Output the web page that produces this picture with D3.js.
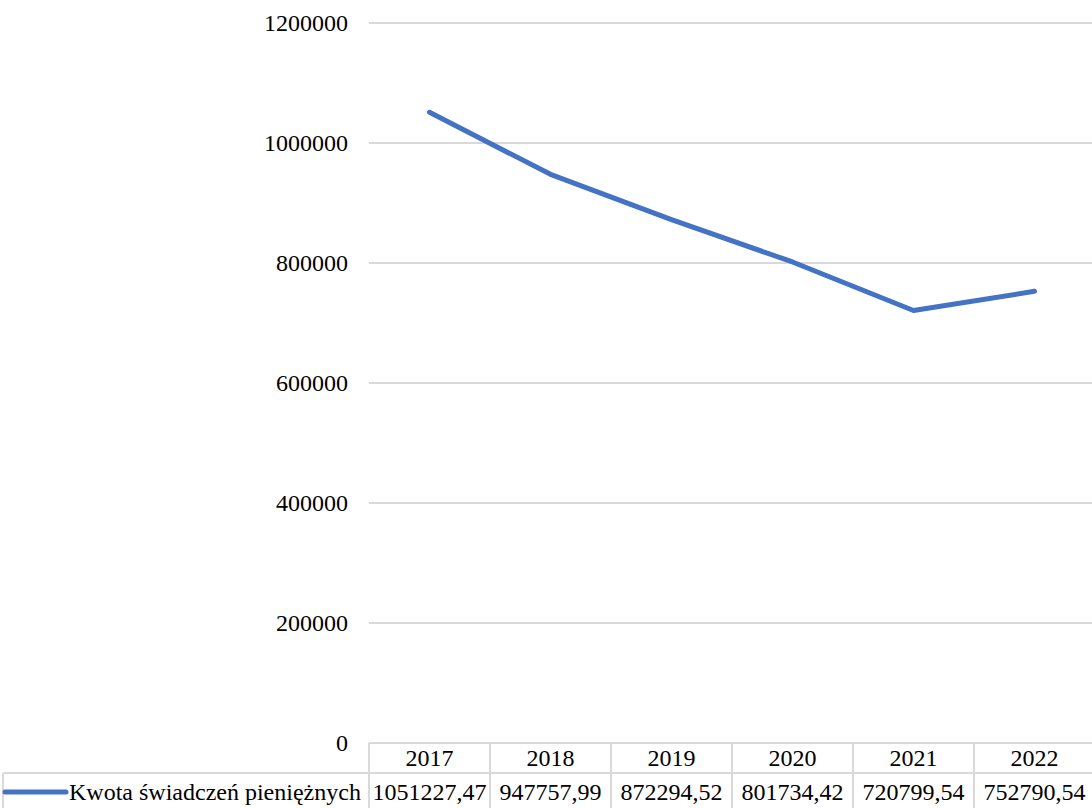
<!DOCTYPE html>
<html><head><meta charset="utf-8">
<script src="https://cdn.jsdelivr.net/npm/d3@7"></script>
<style>body{margin:0;background:#fff}svg{display:block}</style>
</head><body>
<script>
const categories = ["2017","2018","2019","2020","2021","2022"];
const values = [1051227.47, 947757.99, 872294.52, 801734.42, 720799.54, 752790.54];
const valueLabels = ["1051227,47","947757,99","872294,52","801734,42","720799,54","752790,54"];
const seriesName = "Kwota świadczeń pieniężnych";
const yTicks = [0,200000,400000,600000,800000,1000000,1200000];

(function(){
const W=1092,H=808;
const FONT="'Liberation Serif', 'Times New Roman', Times, 'DejaVu Serif', serif";
const svg=d3.select("body").append("svg").attr("width",W).attr("height",H)
  .style("font-family",FONT);
const left=369, colW=121, plotTop=23, plotBottom=743;
const x=d3.scaleBand().domain(categories).range([left,left+colW*categories.length]);
const y=d3.scaleLinear().domain([0,1200000]).range([plotBottom,plotTop]);
const fs=24;

svg.append("g").selectAll("line").data(yTicks.filter(d=>d>0)).join("line")
 .attr("x1",left).attr("x2",W+10).attr("y1",d=>y(d)).attr("y2",d=>y(d))
 .attr("stroke","#d9d9d9").attr("stroke-width",2);
svg.append("g").selectAll("text").data(yTicks).join("text")
 .attr("x",348).attr("y",d=>y(d)).attr("dy","0.33em").attr("text-anchor","end")
 .style("font-family",FONT).style("font-size",fs+"px").text(d=>d);

const rowH=30, t0=plotBottom, t1=plotBottom+rowH, t2=t1+rowH+20;
const g=svg.append("g").attr("stroke","#d9d9d9").attr("stroke-width",2);
g.append("line").attr("x1",left).attr("x2",W+10).attr("y1",t0).attr("y2",t0);
g.append("line").attr("x1",3).attr("x2",W+10).attr("y1",t1).attr("y2",t1);
g.append("line").attr("x1",3).attr("x2",3).attr("y1",t1).attr("y2",t2);
categories.forEach(c=>{
  g.append("line").attr("x1",x(c)).attr("x2",x(c)).attr("y1",t0).attr("y2",t2);
});
g.append("line").attr("x1",x.range()[1]).attr("x2",x.range()[1]).attr("y1",t0).attr("y2",t2);
svg.append("g").selectAll("text").data(categories).join("text")
 .attr("x",d=>x(d)+x.bandwidth()/2).attr("y",(t0+t1)/2).attr("dy","0.35em")
 .attr("text-anchor","middle").style("font-family",FONT).style("font-size",fs+"px").text(d=>d);
svg.append("g").selectAll("text").data(valueLabels).join("text")
 .attr("x",(d,i)=>x(categories[i])+x.bandwidth()/2).attr("y",t1+19).attr("dy","0.35em")
 .attr("text-anchor","middle").style("font-family",FONT).style("font-size",fs+"px").text(d=>d);
svg.append("line").attr("x1",5).attr("x2",66).attr("y1",t1+19).attr("y2",t1+19)
 .attr("stroke","#4472C4").attr("stroke-width",5).attr("stroke-linecap","round");
svg.append("text").attr("x",69).attr("y",t1+19).attr("dy","0.35em")
 .style("font-family",FONT).style("font-size",fs+"px").text(seriesName);

const line=d3.line().x((d,i)=>x(categories[i])+x.bandwidth()/2).y(d=>y(d));
svg.append("path").datum(values).attr("d",line).attr("fill","none")
 .attr("stroke","#4472C4").attr("stroke-width",5).attr("stroke-linecap","round").attr("stroke-linejoin","round");
})();
</script>
</body></html>
